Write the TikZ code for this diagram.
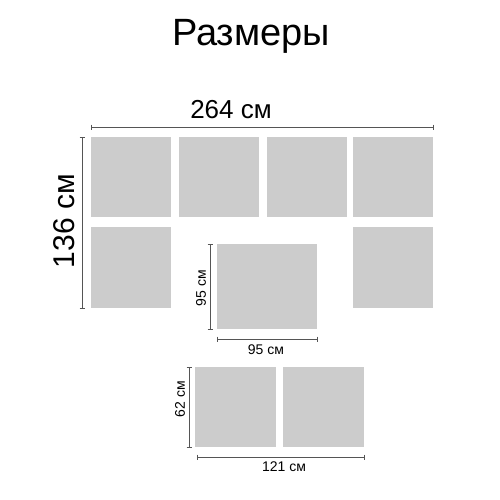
\documentclass[tikz,border=0pt]{standalone}
\usepackage{fontspec}
\setmainfont{Liberation Sans}
\begin{document}
\begin{tikzpicture}[x=1pt,y=-1pt,
  panel/.style={fill=panelgray,draw=none},
  dimline/.style={draw=dimgray,line width=1pt},
  tick/.style={draw=dimgray,line width=1pt},
  biglabel/.style={font=\fontsize{26}{26}\selectfont,inner sep=0pt},
  sidelabel/.style={font=\fontsize{30}{30}\selectfont,inner sep=0pt},
  smalllabel/.style={font=\fontsize{14}{14}\selectfont,inner sep=0pt}]
\definecolor{panelgray}{HTML}{CCCCCC}
\definecolor{dimgray}{HTML}{555555}
\useasboundingbox[fill=white] (0,0) rectangle (500,500);
\node[font=\fontsize{38}{38}\selectfont,inner sep=0pt] (title) at (251,36) {Размеры};
% top row
\fill[panelgray] (91,137) rectangle (171,217);
\fill[panelgray] (179,137) rectangle (259,217);
\fill[panelgray] (267,137) rectangle (347,217);
\fill[panelgray] (353,137) rectangle (433,217);
% second row
\fill[panelgray] (91,227) rectangle (171,308);
\fill[panelgray] (353,227) rectangle (433,308);
% middle
\fill[panelgray] (217,244) rectangle (317,329);
% bottom
\fill[panelgray] (195,367) rectangle (276,447);
\fill[panelgray] (283,367) rectangle (364,447);
% top dimension
\coordinate (t1) at (91,127); \coordinate (t2) at (433,127);
\draw[dimline] (t1) -- (t2);
\draw[tick] (91,124.5) -- (91,129.5); \draw[tick] (433,124.5) -- (433,129.5);
\node[biglabel] (l264) at (231,110) {264 см};
% left dimension
\coordinate (v1) at (82,137); \coordinate (v2) at (82,308);
\draw[dimline] (v1) -- (v2);
\draw[tick] (79.5,137) -- (84.5,137); \draw[tick] (79.5,308) -- (84.5,308);
\node[sidelabel,rotate=90] (l136) at (64,221) {136 см};
% middle dims
\coordinate (m1) at (210,244); \coordinate (m2) at (210,329);
\draw[dimline] (m1) -- (m2);
\draw[tick] (207.5,244) -- (212.5,244); \draw[tick] (207.5,329) -- (212.5,329);
\node[smalllabel,rotate=90] (l95v) at (201,288) {95 см};
\coordinate (h1) at (217,339); \coordinate (h2) at (317,339);
\draw[dimline] (h1) -- (h2);
\draw[tick] (217,336.5) -- (217,341.5); \draw[tick] (317,336.5) -- (317,341.5);
\node[smalllabel] (l95h) at (266,350) {95 см};
% bottom dims
\coordinate (b1) at (189,367); \coordinate (b2) at (189,447);
\draw[dimline] (b1) -- (b2);
\draw[tick] (186.5,367) -- (191.5,367); \draw[tick] (186.5,447) -- (191.5,447);
\node[smalllabel,rotate=90] (l62) at (180,399) {62 см};
\coordinate (c1) at (197,457); \coordinate (c2) at (364,457);
\draw[dimline] (c1) -- (c2);
\draw[tick] (197,454.5) -- (197,459.5); \draw[tick] (364,454.5) -- (364,459.5);
\node[smalllabel] (l121) at (284,467) {121 см};
\end{tikzpicture}
\end{document}
